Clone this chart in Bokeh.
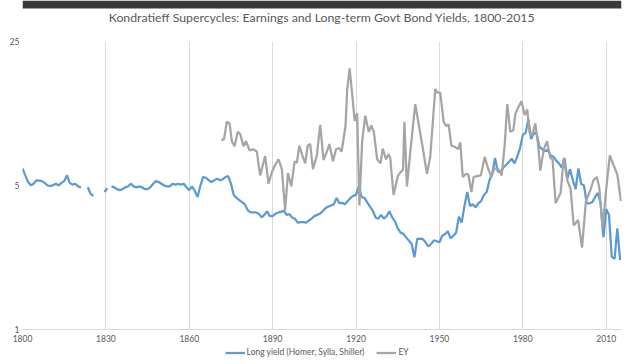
import math
from bokeh.plotting import figure
from bokeh.layouts import column
from bokeh.models import (FixedTicker, NumeralTickFormatter, Legend, LegendItem, Range1d,
                          ColumnDataSource, Label, BoxAnnotation)
from bokeh.embed import file_html
from bokeh.resources import INLINE

nan = float("nan")

title_text = "Kondratieff Supercycles: Earnings and Long-term Govt Bond Yields, 1800-2015"
series_names = ["Long yield (Homer, Sylla, Shiller)", "EY"]

yield_years = [
    1800, 1801, 1802, 1803, 1804, 1805, 1806, 1807, 1808, 1809, 1810, 1811, 1812, 1813, 1814, 1815,
    1816, 1817, 1818, 1819, 1820, 1821, 1822, 1823.5, 1824.5, 1825.5, 1826.5, 1829.5, 1830.5, 1831,
    1832, 1833, 1834, 1835, 1836, 1837, 1838, 1839, 1840, 1841, 1842, 1843, 1844, 1845, 1846, 1847,
    1848, 1849, 1850, 1851, 1852, 1853, 1854, 1855, 1856, 1857, 1858, 1859, 1860, 1861, 1862, 1863,
    1864, 1865, 1866, 1867, 1868, 1869, 1870, 1871, 1872, 1873, 1874, 1875, 1876, 1877, 1878, 1879,
    1880, 1881, 1882, 1883, 1884, 1885, 1886, 1887, 1888, 1889, 1890, 1891, 1892, 1893, 1894, 1895,
    1896, 1897, 1898, 1899, 1900, 1901, 1902, 1903, 1904, 1905, 1906, 1907, 1908, 1909, 1910, 1911,
    1912, 1913, 1914, 1915, 1916, 1917, 1918, 1919, 1920, 1921, 1922, 1923, 1924, 1925, 1926, 1927,
    1928, 1929, 1930, 1931, 1932, 1933, 1934, 1935, 1936, 1937, 1938, 1939, 1940, 1941, 1942, 1943,
    1944, 1945, 1946, 1947, 1948, 1949, 1950, 1951, 1952, 1953, 1954, 1955, 1956, 1957, 1958, 1959,
    1960, 1961, 1962, 1963, 1964, 1965, 1966, 1967, 1968, 1969, 1970, 1971, 1972, 1973, 1974, 1975,
    1976, 1977, 1978, 1979, 1980, 1981, 1982, 1983, 1984, 1985, 1986, 1987, 1988, 1989, 1990, 1991,
    1992, 1993, 1994, 1995, 1996, 1997, 1998, 1999, 2000, 2001, 2002, 2003, 2004, 2005, 2006, 2007,
    2008, 2009, 2010, 2011, 2012, 2013, 2014, 2015,
]
long_yield = [
    6.05, 5.6, 5.2, 5.02, 5.1, 5.3, 5.28, 5.25, 5.15, 5.0, 4.97, 5.02, 5.1, 5.0, 5.15, 5.25,
    5.6, 5.15, 5.05, 5.1, 4.95, 4.9, nan, 4.9, 4.55, 4.45, nan, 4.65, 4.85, nan,
    4.95, 4.9, 4.8, 4.75, 4.8, 4.9, 4.95, 5.1, 4.95, 4.9, 4.95, 4.9, 4.8, 4.8, 4.9, 5.1,
    5.25, 5.2, 5.1, 5.0, 4.95, 4.95, 5.1, 5.05, 5.1, 5.05, 5.1, 4.9, 4.75, 4.95, 4.7, 4.4,
    5.0, 5.5, 5.45, 5.3, 5.2, 5.3, 5.4, 5.3, 5.35, 5.5, 5.55, 5.1, 4.5, 4.35, 4.25, 4.15,
    4.05, 3.8, 3.7, 3.7, 3.7, 3.65, 3.5, 3.6, 3.75, 3.55, 3.55, 3.65, 3.7, 3.72, 3.78, 3.6,
    3.63, 3.5, 3.45, 3.3, 3.32, 3.32, 3.3, 3.38, 3.45, 3.55, 3.6, 3.65, 3.75, 3.88, 3.95, 4.0,
    4.05, 4.35, 4.1, 4.12, 4.05, 4.2, 4.35, 4.45, 4.5, 4.95, 4.4, 4.35, 4.15, 3.95, 3.78, 3.5,
    3.45, 3.6, 3.45, 3.55, 3.75, 3.5, 3.35, 3.1, 2.95, 2.92, 2.8, 2.7, 2.6, 2.24, 2.75, 2.76,
    2.75, 2.65, 2.53, 2.6, 2.71, 2.68, 2.65, 2.85, 2.9, 3.0, 2.77, 2.85, 2.95, 3.53, 3.3, 3.98,
    4.65, 3.98, 4.05, 3.92, 4.1, 4.2, 4.5, 4.65, 5.3, 5.7, 6.8, 5.85, 5.8, 6.1, 6.3, 6.5,
    6.75, 6.4, 6.9, 7.6, 8.8, 9.0, 10.5, 8.4, 9.0, 8.9, 7.7, 7.5, 7.35, 7.45, 7.0, 6.9,
    6.6, 6.4, 6.1, 6.8, 5.4, 6.0, 5.3, 4.8, 6.05, 5.08, 5.0, 4.1, 4.1, 4.15, 4.4, 4.6,
    4.1, 2.8, 3.85, 3.6, 2.25, 2.2, 3.1, 2.17,
]

ey_years = [
    1871.5, 1872.5, 1873.5, 1874.5, 1875.3, 1876.3, 1877.4, 1878.3, 1879.5, 1880.4, 1881.7, 1883.1,
    1884.3, 1885.5, 1887.3, 1888.5, 1889.7, 1890.6, 1892.1, 1893.3, 1894.5, 1895.5, 1896.7, 1897.9,
    1898.7, 1899.6, 1900.8, 1901.7, 1902.6, 1903.5, 1904.5, 1905.9, 1907.1, 1908.3, 1909.5, 1910.4,
    1911.7, 1912.8, 1914.0, 1914.8, 1916.2, 1916.8, 1917.7, 1918.6, 1919.5, 1920.4, 1921.2, 1922.2,
    1923.3, 1924.6, 1925.5, 1926.4, 1927.6, 1928.8, 1929.6, 1930.8, 1931.7, 1932.3, 1933.5, 1935.0,
    1936.0, 1936.9, 1937.4, 1938.3, 1939.8, 1941.3, 1942.5, 1943.9, 1945.5, 1946.7, 1948.5, 1949.3,
    1950.3, 1951.5, 1952.4, 1953.3, 1954.3, 1955.6, 1956.7, 1957.5, 1958.4, 1959.6, 1960.4, 1961.5,
    1962.3, 1963.5, 1964.9, 1966.3, 1967.5, 1968.7, 1969.8, 1971.2, 1972.4, 1973.5, 1974.4, 1975.5,
    1976.6, 1977.3, 1978.5, 1979.5, 1980.7, 1981.6, 1982.4, 1983.3, 1984.5, 1985.5, 1986.3, 1987.5,
    1988.7, 1989.9, 1990.7, 1991.8, 1993.6, 1994.7, 1996.0, 1997.2, 1998.3, 1999.9, 2001.3, 2002.7,
    2004.2, 2005.4, 2006.6, 2007.5, 2008.7, 2010.0, 2011.3, 2012.8, 2014.0, 2015.3,
]
ey = [
    8.3, 8.4, 10.2, 10.0, 8.2, 7.75, 9.1, 8.9, 7.75, 8.2, 7.4, 7.5,
    7.3, 5.6, 6.95, 5.1, 5.8, 6.2, 6.7, 6.0, 3.78, 5.75, 4.95, 6.55,
    6.45, 7.8, 6.9, 6.4, 7.8, 7.95, 6.0, 7.0, 9.85, 6.65, 7.3, 7.95,
    6.55, 7.5, 7.6, 7.3, 9.7, 14.5, 18.5, 13.9, 10.3, 11.2, 4.0, 8.2,
    10.9, 9.1, 9.8, 9.1, 6.7, 6.4, 7.55, 6.7, 7.1, 6.8, 4.5, 5.55,
    5.8, 5.97, 10.2, 4.95, 7.95, 12.4, 10.0, 7.75, 5.7, 6.9, 14.7, 14.1,
    14.1, 10.2, 9.7, 9.9, 7.8, 7.7, 7.5, 8.1, 5.5, 5.7, 5.65, 4.65,
    5.5, 5.55, 5.6, 6.9, 6.05, 5.5, 6.05, 6.0, 5.6, 7.95, 12.4, 9.1,
    9.3, 11.1, 12.1, 12.8, 11.0, 11.7, 9.05, 8.7, 10.0, 7.85, 5.9, 7.45,
    8.2, 6.8, 6.7, 4.1, 4.6, 6.8, 5.3, 4.8, 3.2, 3.4, 2.5, 4.2,
    4.7, 5.3, 5.5, 4.9, 3.1, 4.8, 7.0, 6.2, 5.65, 4.2,
]

x_ticks = [1800, 1830, 1860, 1890, 1920, 1950, 1980, 2010]
y_ticks = [1, 5, 25]

FONT = "Lato"
TXT = "#595959"
BLUE = "#5B9BD5"
GRAY = "#A5A5A5"
W = 640
HEADER_H = 35


def blank(h, yr=(0, 1), xr=(0, 1)):
    f = figure(width=W, height=h, output_backend="svg", toolbar_location=None,
               x_range=Range1d(*xr), y_range=Range1d(*yr),
               x_axis_location=None, y_axis_location=None, min_border=0)
    f.outline_line_color = None
    f.xgrid.grid_line_color = None
    f.ygrid.grid_line_color = None
    f.background_fill_color = "white"
    f.border_fill_color = "white"
    return f


# header: dark window strip at the very top + chart title
header = blank(HEADER_H, yr=(0, HEADER_H), xr=(0, W))
header.add_layout(BoxAnnotation(left=0, right=W, bottom=HEADER_H - 8, top=HEADER_H,
                                fill_color="#3a3a3a", fill_alpha=1.0, line_color=None))
header.add_layout(Label(x=W / 2, y=HEADER_H - 17, text=title_text, text_align="center",
                        text_baseline="middle", text_font=FONT, text_font_size="12.3px",
                        text_color=TXT))

p = figure(width=W, height=310, output_backend="svg", toolbar_location=None,
           y_axis_type="log", x_range=Range1d(1800, 2015.5), y_range=Range1d(1, 25),
           min_border_left=22, min_border_right=19, min_border_top=6, min_border_bottom=16)
p.outline_line_color = None
p.background_fill_color = "white"
p.border_fill_color = "white"

p.xaxis.ticker = FixedTicker(ticks=x_ticks)
p.yaxis.ticker = FixedTicker(ticks=y_ticks)
p.yaxis.formatter = NumeralTickFormatter(format="0")
for ax in (p.xaxis[0], p.yaxis[0]):
    ax.major_tick_line_color = None
    ax.minor_tick_line_color = None
    ax.major_tick_out = 0
    ax.major_tick_in = 0
    ax.minor_tick_out = 0
    ax.major_label_text_font = FONT
    ax.major_label_text_font_size = "8.5px"
    ax.major_label_text_color = TXT
p.xaxis.axis_line_color = "#D9D9D9"
p.xaxis.major_label_standoff = 5
p.yaxis.axis_line_color = None
p.yaxis.major_label_standoff = 3

p.xgrid.ticker = FixedTicker(ticks=x_ticks)
p.xgrid.grid_line_color = "#D9D9D9"
p.ygrid.grid_line_color = None

src_y = ColumnDataSource(dict(x=yield_years, y=long_yield))
src_e = ColumnDataSource(dict(x=ey_years, y=ey))
p.line("x", "y", source=src_y, line_color=BLUE, line_width=2.25)
p.line("x", "y", source=src_e, line_color=GRAY, line_width=2.25)

# legend strip below the chart (same series, drawn outside its visible range)
p2 = blank(14)
l1 = p2.line("x", "y", source=src_y, line_color=BLUE, line_width=2.25)
l2 = p2.line("x", "y", source=src_e, line_color=GRAY, line_width=2.25)

legend = Legend(items=[LegendItem(label=series_names[0], renderers=[l1]),
                       LegendItem(label=series_names[1], renderers=[l2])],
                orientation="horizontal", location="center")
legend.label_text_font = FONT
legend.label_text_font_size = "8.5px"
legend.label_text_color = TXT
legend.label_height = 9
legend.glyph_width = 20
legend.glyph_height = 9
legend.spacing = 12
legend.padding = 0
legend.margin = 0
legend.label_standoff = 2
legend.border_line_color = None
legend.background_fill_alpha = 0
p2.add_layout(legend, "center")

layout = column(header, p, p2, spacing=0)
open("out.html", "w").write(file_html(layout, INLINE))
